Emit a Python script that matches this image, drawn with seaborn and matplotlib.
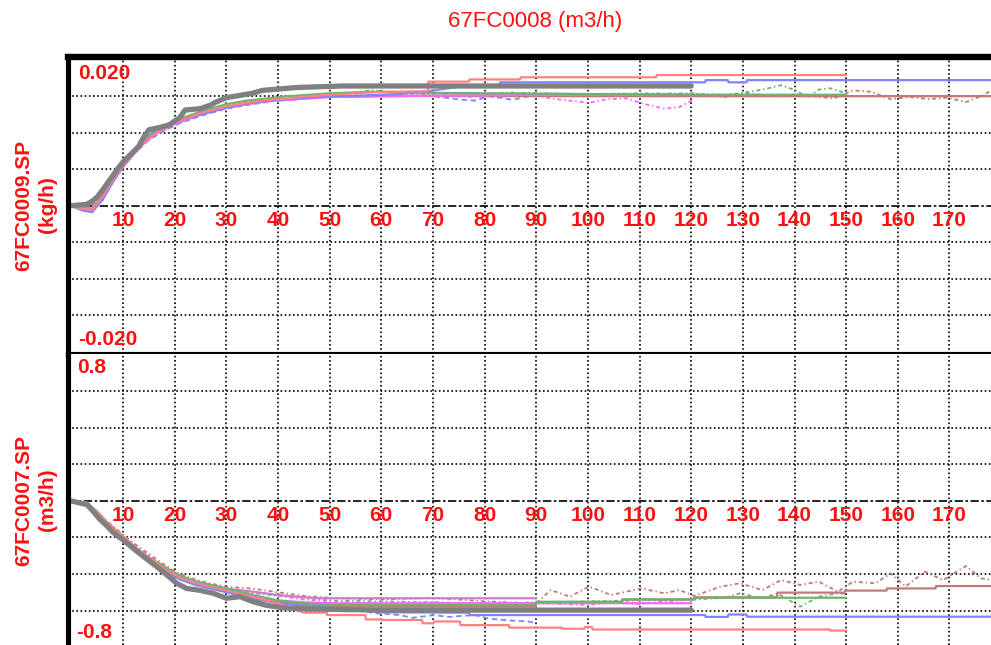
import matplotlib
matplotlib.use("Agg")
import matplotlib.pyplot as plt
import seaborn as sns

sns.set_style("white")
plt.rcParams['font.family'] = ['Liberation Sans', 'DejaVu Sans']

# ---------------- texts ----------------
title_text = "67FC0008 (m3/h)"
top_ylabel = "67FC0009.SP\n(kg/h)"
bot_ylabel = "67FC0007.SP\n(m3/h)"
x_tick_values = [10, 20, 30, 40, 50, 60, 70, 80, 90, 100, 110, 120, 130, 140, 150, 160, 170]
top_limit_labels = ["0.020", "-0.020"]
top_limit_values = [0.020, -0.020]
bot_limit_labels = ["0.8", "-0.8"]
bot_limit_values = [0.8, -0.8]
top_grid_values = [-0.015, -0.010, -0.005, 0.005, 0.010, 0.015]
bot_grid_values = [-0.6, -0.4, -0.2, 0.2, 0.4, 0.6]

# ---------------- top panel (67FC0009.SP) ----------------
top_gray_t = [0, 3, 4, 5, 6, 7, 8, 9, 10, 11, 12, 13, 14, 15, 17, 19, 21, 22, 25, 27, 28, 30, 35, 37, 43.7, 52.6, 120]
top_gray_v = [0, 0.0002, 0.0006, 0.0012, 0.0021, 0.0031, 0.0041, 0.0051, 0.0060, 0.0067, 0.0074, 0.0081, 0.0094,
              0.0104, 0.0107, 0.0111, 0.0121, 0.0131, 0.0133, 0.0138, 0.0142, 0.0148, 0.0154, 0.0158, 0.0162, 0.0164, 0.0164]

top_red_t = [0, 2, 4, 6, 8, 10, 12, 14, 16, 18, 20, 23, 26, 30, 34, 38, 42, 46, 50, 55, 60, 69, 69.1, 77, 77.1,
             86.9, 87, 113.2, 113.3, 150]
top_red_v = [0, -0.0004, -0.0006, 0.0012, 0.0035, 0.0055, 0.0071, 0.0086, 0.0098, 0.0106, 0.0113, 0.0122, 0.0129,
             0.0136, 0.0141, 0.0145, 0.0147, 0.0150, 0.0152, 0.0154, 0.0156, 0.0157, 0.0170, 0.0170, 0.0173,
             0.0173, 0.0176, 0.0176, 0.0179, 0.0179]

top_blue_t = [0, 2, 4, 6, 8, 10, 12, 14, 16, 18, 20, 23, 26, 30, 34, 38, 42, 46, 50, 57, 63.6, 69.1, 77.1, 82.9,
              83, 122.7, 122.8, 127.1, 127.2, 130.7, 130.8, 178.2]
top_blue_v = [0, -0.0006, -0.0009, 0.0008, 0.0032, 0.0054, 0.0071, 0.0087, 0.0099, 0.0107, 0.0114, 0.0121, 0.0127,
              0.0134, 0.0140, 0.0144, 0.0146, 0.0148, 0.0150, 0.0151, 0.0153, 0.0157, 0.0165, 0.0165,
              0.0169, 0.0169, 0.0172, 0.0172, 0.0169, 0.0169, 0.0172, 0.0172]

top_green_t = [0, 2, 4, 6, 8, 10, 12, 14, 16, 18, 20, 23, 26, 30, 34, 38, 42, 46, 50, 58, 65, 80, 100, 120, 150]
top_green_v = [0, -0.0003, -0.0007, 0.0015, 0.0038, 0.0058, 0.0074, 0.0090, 0.0102, 0.0109, 0.0116, 0.0124, 0.0131,
               0.0139, 0.0144, 0.0147, 0.0150, 0.0152, 0.0154, 0.0156, 0.0155, 0.0154, 0.0153, 0.0152, 0.0152]

top_magenta_t = [0, 2, 4, 6, 8, 10, 12, 14, 16, 18, 20, 23, 26, 30, 34, 38, 42, 46, 50, 60, 75, 90, 120]
top_magenta_v = [0, -0.0004, -0.0005, 0.0010, 0.0033, 0.0053, 0.0070, 0.0085, 0.0097, 0.0105, 0.0112, 0.0120,
                 0.0127, 0.0134, 0.0139, 0.0143, 0.0145, 0.0147, 0.0149, 0.0150, 0.0151, 0.0152, 0.0152]

top_brown_t = [0, 2, 4, 6, 8, 10, 12, 14, 16, 18, 20, 23, 26, 30, 34, 38, 42, 46, 50, 60, 80, 95, 178.2]
top_brown_v = [0, -0.0003, -0.0004, 0.0013, 0.0036, 0.0056, 0.0072, 0.0088, 0.0099, 0.0107, 0.0114, 0.0122,
               0.0128, 0.0135, 0.0140, 0.0144, 0.0146, 0.0148, 0.0149, 0.0150, 0.0151, 0.0150, 0.0150]

top_brown_dot_t = [0, 3, 6, 9, 12, 15, 18, 21, 25, 30, 35, 40, 50, 60, 70, 80, 90, 100, 110, 120.6, 126.5, 129.4,
                   133.8, 137.4, 140.3, 144.7, 147.6, 151.3, 154.9, 158.6, 162.3, 165.9, 169.6, 173.2, 176.1, 178.2]
top_brown_dot_v = [0, -0.0005, 0.0012, 0.0048, 0.0074, 0.0094, 0.0106, 0.0116, 0.0126, 0.0136, 0.0142, 0.0146,
                   0.0150, 0.0152, 0.0151, 0.0150, 0.0152, 0.0151, 0.0153, 0.0154, 0.0149, 0.0154, 0.0152, 0.0150,
                   0.0153, 0.0149, 0.0147, 0.0158, 0.0156, 0.0146, 0.0149, 0.0146, 0.0148, 0.0142, 0.0150, 0.0158]

top_green_dot_t = [0, 3, 6, 9, 12, 15, 18, 21, 25, 30, 35, 40, 50, 58, 70, 85, 100, 110, 120.6, 126.5, 129.4,
                   133.8, 137.4, 140.3, 142.5, 144.7, 146.9, 149.1, 150.3]
top_green_dot_v = [0, -0.0006, 0.0010, 0.0046, 0.0073, 0.0093, 0.0105, 0.0115, 0.0125, 0.0135, 0.0141, 0.0146,
                   0.0150, 0.0158, 0.0152, 0.0155, 0.0153, 0.0154, 0.0153, 0.0152, 0.0154, 0.0159, 0.0165, 0.0158,
                   0.0148, 0.0159, 0.0161, 0.0156, 0.0150]

top_magenta_dot_t = [0, 3, 6, 9, 12, 15, 18, 21, 25, 30, 35, 40, 50, 60, 70, 80, 90, 95, 100.2, 103.8, 107.5,
                     111.1, 114.8, 117.7, 120.3]
top_magenta_dot_v = [0, -0.0004, 0.0011, 0.0047, 0.0072, 0.0092, 0.0104, 0.0114, 0.0124, 0.0134, 0.0140, 0.0145,
                     0.0149, 0.0151, 0.0150, 0.0149, 0.0150, 0.0145, 0.0141, 0.0146, 0.0147, 0.0139, 0.0133,
                     0.0135, 0.0145]

top_blue_dash_t = [0, 3, 6, 9, 12, 15, 18, 21, 25, 30, 35, 40, 50, 60, 70, 76, 78, 81, 85.5, 87.7, 90]
top_blue_dash_v = [0, -0.0009, 0.0007, 0.0044, 0.0070, 0.0090, 0.0103, 0.0113, 0.0123, 0.0133, 0.0139, 0.0144,
                   0.0149, 0.0151, 0.0150, 0.0145, 0.0144, 0.0150, 0.0145, 0.0149, 0.0150]

# ---------------- bottom panel (67FC0007.SP) ----------------
bot_gray_t = [0, 3, 4, 5.5, 7, 8, 10, 12, 14, 17, 20.4, 22.3, 25, 27.5, 30, 32.6, 35.2, 37.8, 41, 44.3, 52.6,
              63.6, 90, 120]
bot_gray_v = [0, -0.02, -0.05, -0.10, -0.14, -0.17, -0.214, -0.26, -0.305, -0.37, -0.451, -0.479, -0.49, -0.506,
              -0.533, -0.524, -0.552, -0.572, -0.585, -0.59, -0.595, -0.598, -0.598, -0.598]

bot_red_t = [0, 3, 5, 7, 9, 11, 13, 15, 18, 21, 24, 27, 30, 33, 36, 40, 45, 49.4, 49.5, 56.9, 57, 59.9, 60, 67.9,
             68, 70.1, 70.2, 75.2, 75.3, 84.7, 84.8, 94.9, 95, 99.3, 99.4, 100.8, 100.9, 146.8, 146.9, 150]
bot_red_v = [0, -0.01, -0.06, -0.12, -0.17, -0.22, -0.27, -0.31, -0.37, -0.42, -0.45, -0.47, -0.49, -0.51, -0.53,
             -0.56, -0.612, -0.612, -0.625, -0.625, -0.649, -0.649, -0.652, -0.652, -0.67, -0.67, -0.66, -0.66,
             -0.68, -0.68, -0.694, -0.694, -0.70, -0.70, -0.69, -0.69, -0.704, -0.704, -0.71, -0.71]

bot_blue_t = [0, 3, 5, 7, 9, 11, 13, 15, 18, 21, 24, 27, 30, 33, 36, 40, 45, 50, 55, 60, 77, 77.1, 122.7, 122.8,
              127.1, 127.2, 130.7, 130.8, 178.2]
bot_blue_v = [0, -0.01, -0.07, -0.13, -0.18, -0.23, -0.28, -0.32, -0.38, -0.43, -0.46, -0.48, -0.50, -0.52, -0.54,
              -0.56, -0.575, -0.585, -0.595, -0.61, -0.612, -0.625, -0.625, -0.635, -0.635, -0.622, -0.622,
              -0.634, -0.634]

bot_blue_dash_t = [0, 3, 6, 9, 12, 15, 18, 21, 25, 30, 35, 40, 45, 50, 55, 59, 63.6, 66, 70.2, 73, 78, 81, 85,
                   88.5, 90]
bot_blue_dash_v = [0, -0.02, -0.10, -0.18, -0.25, -0.31, -0.37, -0.42, -0.46, -0.50, -0.53, -0.55, -0.57, -0.585,
                   -0.60, -0.615, -0.625, -0.64, -0.625, -0.635, -0.625, -0.645, -0.655, -0.66, -0.67]

bot_green_t = [0, 3, 5, 7, 9, 11, 13, 15, 18, 21, 24, 27, 30, 33, 36, 40, 45, 50, 63.6, 89.9, 90, 106.6, 106.7,
               120.5, 120.6, 150]
bot_green_v = [0, -0.01, -0.06, -0.12, -0.17, -0.22, -0.27, -0.31, -0.36, -0.41, -0.44, -0.46, -0.48, -0.50,
               -0.52, -0.545, -0.56, -0.57, -0.57, -0.57, -0.552, -0.552, -0.54, -0.54, -0.53, -0.53]

bot_magenta_t = [0, 3, 5, 7, 9, 11, 13, 15, 18, 21, 24, 27, 30, 33, 36, 40, 45, 50, 63.6, 120]
bot_magenta_v = [0, -0.01, -0.07, -0.13, -0.18, -0.23, -0.28, -0.32, -0.37, -0.42, -0.45, -0.47, -0.49, -0.51,
                 -0.53, -0.545, -0.555, -0.56, -0.56, -0.56]

bot_purple_t = [0, 3, 5, 7, 9, 11, 13, 15, 18, 21, 24, 27, 30, 33, 36, 40, 44, 48, 90]
bot_purple_v = [0, -0.01, -0.06, -0.12, -0.17, -0.22, -0.27, -0.31, -0.36, -0.41, -0.44, -0.46, -0.48, -0.49,
                -0.50, -0.515, -0.525, -0.533, -0.533]

bot_brown_t = [0, 3, 5, 7, 9, 11, 13, 15, 18, 21, 24, 27, 30, 33, 36, 40, 45, 50, 63.6, 89.9, 90, 106.6, 106.7,
               120.5, 120.6, 136.6, 136.7, 149.7, 149.8, 157.8, 157.9, 167.3, 167.4, 178.2]
bot_brown_v = [0, -0.01, -0.06, -0.12, -0.17, -0.22, -0.27, -0.31, -0.37, -0.42, -0.45, -0.47, -0.49, -0.51,
               -0.53, -0.55, -0.565, -0.575, -0.579, -0.579, -0.557, -0.557, -0.539, -0.539, -0.528, -0.528,
               -0.502, -0.502, -0.491, -0.491, -0.479, -0.479, -0.466, -0.466]

bot_brown_dot_t = [0, 3, 6, 9, 12, 15, 18, 21, 25, 30, 35, 40, 45, 50, 60, 70, 80, 90, 92.8, 96.5, 100.2, 104.5,
                   110.4, 114.8, 117.7, 120.6, 125.7, 129.4, 133.8, 137.4, 141.1, 144.7, 148.4, 151.3, 155.7,
                   158.6, 161.5, 165.2, 168.8, 173.2, 176.1, 178.2]
bot_brown_dot_v = [0, -0.01, -0.09, -0.16, -0.23, -0.29, -0.35, -0.40, -0.44, -0.47, -0.48, -0.50, -0.52, -0.53,
                   -0.54, -0.53, -0.55, -0.561, -0.488, -0.524, -0.469, -0.515, -0.479, -0.506, -0.488, -0.52,
                   -0.469, -0.451, -0.488, -0.433, -0.46, -0.442, -0.497, -0.442, -0.451, -0.396, -0.469, -0.387,
                   -0.433, -0.356, -0.424, -0.433]

bot_green_dot_t = [0, 3, 6, 9, 12, 15, 18, 21, 25, 30, 35, 40, 45, 50, 60, 70, 80, 90, 100, 110, 120.6, 126.5,
                   129.4, 133.8, 136.7, 141.1, 144.7, 148.4, 150.3]
bot_green_dot_v = [0, -0.01, -0.09, -0.17, -0.24, -0.30, -0.36, -0.41, -0.45, -0.48, -0.50, -0.52, -0.53, -0.545,
                   -0.55, -0.555, -0.56, -0.555, -0.55, -0.545, -0.54, -0.53, -0.506, -0.533, -0.506, -0.579,
                   -0.524, -0.506, -0.51]

bot_magenta_dot_t = [0, 3, 6, 9, 12, 15, 18, 21, 25, 30, 35, 40, 45, 50, 60, 70, 80, 90, 100, 105, 110, 115, 120]
bot_magenta_dot_v = [0, -0.01, -0.09, -0.17, -0.24, -0.30, -0.36, -0.41, -0.45, -0.48, -0.505, -0.52, -0.54,
                     -0.55, -0.56, -0.555, -0.565, -0.56, -0.57, -0.555, -0.565, -0.55, -0.56]

# ---------------- styles ----------------
GRAY = "#808080"
RED = "#ff8282"
BLUE = "#8282ff"
GREEN = "#6cb46c"
MAGENTA = "#ff66ff"
BROWN = "#c27878"
PURPLE = "#c482c4"
DOTSTYLE = (0, (2.2, 1.6, 0.8, 1.6))

top_series = [
    (top_brown_dot_t, top_brown_dot_v, BROWN, 1.3, DOTSTYLE),
    (top_green_dot_t, top_green_dot_v, GREEN, 1.3, DOTSTYLE),
    (top_magenta_dot_t, top_magenta_dot_v, MAGENTA, 1.3, DOTSTYLE),
    (top_blue_dash_t, top_blue_dash_v, BLUE, 1.3, (0, (3, 2))),
    (top_brown_t, top_brown_v, BROWN, 1.6, "-"),
    (top_magenta_t, top_magenta_v, MAGENTA, 1.6, "-"),
    (top_green_t, top_green_v, GREEN, 1.6, "-"),
    (top_blue_t, top_blue_v, BLUE, 1.6, "-"),
    (top_red_t, top_red_v, RED, 1.6, "-"),
    (top_gray_t, top_gray_v, GRAY, 3.8, "-"),
]
bot_series = [
    (bot_brown_dot_t, bot_brown_dot_v, BROWN, 1.3, DOTSTYLE),
    (bot_green_dot_t, bot_green_dot_v, GREEN, 1.3, DOTSTYLE),
    (bot_magenta_dot_t, bot_magenta_dot_v, MAGENTA, 1.3, DOTSTYLE),
    (bot_blue_dash_t, bot_blue_dash_v, BLUE, 1.3, (0, (3, 2))),
    (bot_purple_t, bot_purple_v, PURPLE, 1.6, "-"),
    (bot_brown_t, bot_brown_v, BROWN, 1.6, "-"),
    (bot_magenta_t, bot_magenta_v, MAGENTA, 1.6, "-"),
    (bot_green_t, bot_green_v, GREEN, 1.6, "-"),
    (bot_blue_t, bot_blue_v, BLUE, 1.6, "-"),
    (bot_red_t, bot_red_v, RED, 1.6, "-"),
    (bot_gray_t, bot_gray_v, GRAY, 3.8, "-"),
]

W, H = 991, 645
fig = plt.figure(figsize=(W / 100, H / 100), dpi=100)

left_px, sep_px, top_px = 67.5, 354.2, 56.5
ax_top = fig.add_axes([left_px / W, (H - sep_px) / H, (W - left_px) / W, (sep_px - top_px) / H])
ax_bot = fig.add_axes([left_px / W, 0.0, (W - left_px) / W, (H - sep_px) / H])

XLIM = (-0.755, 178.04)
TEXT_RED = "#ff1010"


def style_axes(ax, ylim, grid_vals):
    ax.set_xlim(*XLIM)
    ax.set_ylim(*ylim)
    ax.set_xticks(x_tick_values)
    ax.set_yticks(grid_vals)
    ax.tick_params(length=0, labelbottom=False, labelleft=False)
    ax.grid(True, color="black", linestyle=(0, (1, 1.5)), linewidth=1.2)
    ax.set_axisbelow(True)
    ax.axhline(0, color="black", linestyle=(0, (5, 1.5, 1.5, 1.5)), linewidth=1.2, zorder=1)
    for s in ("right", "bottom", "top"):
        ax.spines[s].set_visible(False)
    ax.spines["left"].set_linewidth(3.7)
    ax.spines["left"].set_color("black")
    for xv in x_tick_values:
        ax.annotate(str(xv), xy=(xv, 0), xytext=(0, -10.5), textcoords="offset points",
                    ha="center", va="center", color=TEXT_RED, fontsize=15, fontweight="bold", zorder=5)


def draw_series(ax, series):
    for t, v, c, lw, ls in series:
        sns.lineplot(x=t, y=v, ax=ax, color=c, linewidth=lw, linestyle=ls, estimator=None, sort=False)
    ax.set_xlabel("")
    ax.set_ylabel("")


style_axes(ax_top, (-0.02034, 0.02044), top_grid_values)
style_axes(ax_bot, (-0.789, 0.8043), bot_grid_values)
draw_series(ax_top, top_series)
draw_series(ax_bot, bot_series)

ax_top.spines["top"].set_visible(True)
ax_top.spines["top"].set_linewidth(4.6)
ax_top.spines["top"].set_color("black")
ax_top.spines["bottom"].set_visible(True)
ax_top.spines["bottom"].set_linewidth(3.7)
ax_top.spines["bottom"].set_color("black")

# limit labels inside the panels
ax_top.annotate(top_limit_labels[0], xy=(0, top_limit_values[0]), xytext=(5.2, -9.6), textcoords="offset points",
                ha="left", va="center", color=TEXT_RED, fontsize=15, fontweight="bold")
ax_top.annotate(top_limit_labels[1], xy=(0, top_limit_values[1]), xytext=(4.6, 8.6), textcoords="offset points",
                ha="left", va="center", color=TEXT_RED, fontsize=15, fontweight="bold")
ax_bot.annotate(bot_limit_labels[0], xy=(0, bot_limit_values[0]), xytext=(4.4, -8.8), textcoords="offset points",
                ha="left", va="center", color=TEXT_RED, fontsize=15, fontweight="bold")
ax_bot.annotate(bot_limit_labels[1], xy=(0, bot_limit_values[1]), xytext=(3.2, 10.8), textcoords="offset points",
                ha="left", va="center", color=TEXT_RED, fontsize=15, fontweight="bold", annotation_clip=False)

fig.text(535 / W, (H - 22) / H, title_text, ha="center", va="center", color=TEXT_RED, fontsize=16)
fig.text(36 / W, (H - 205) / H, top_ylabel, rotation=90, ha="center", va="center", multialignment="center",
         color=TEXT_RED, fontsize=15, fontweight="bold", linespacing=1.3)
fig.text(36 / W, (H - 500) / H, bot_ylabel, rotation=90, ha="center", va="center", multialignment="center",
         color=TEXT_RED, fontsize=15, fontweight="bold", linespacing=1.3)

fig.savefig("out.png", dpi=100)
